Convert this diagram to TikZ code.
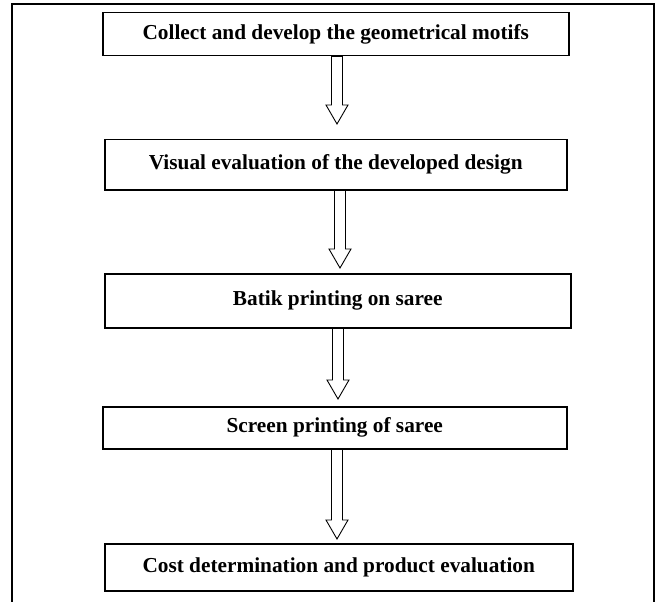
\documentclass[tikz,border=0pt]{standalone}
\usepackage{fontspec}
\setmainfont{Liberation Serif}
\usetikzlibrary{calc}
\tikzset{
  stepbox/.style={draw=black, line width=1.5pt, inner sep=0pt, anchor=north west,
    font=\fontsize{21.3}{24}\selectfont\bfseries, align=center},
  blockarr/.style={draw=black, line width=0.9pt, fill=white, line join=miter},
}
% hollow block arrow from the bottom of box #1 down to coordinate #2
\newcommand{\blockarrow}[2]{%
  \draw[blockarr] let \p1=(#1.south), \p2=(#2) in
    (\x2-5.5pt,\y1) -- (\x2-5.5pt,\y2+19pt) -- (\x2-11pt,\y2+19pt) -- (\x2,\y2)
    -- (\x2+11pt,\y2+19pt) -- (\x2+5.5pt,\y2+19pt) -- (\x2+5.5pt,\y1) -- cycle;}
\begin{document}
\begin{tikzpicture}[x=1pt,y=-1pt]
  \useasboundingbox (0,0) rectangle (657,602);
  % outer frame, open at the bottom
  \draw[line width=2.2pt] (12,602) -- (12,4) -- (654,4) -- (654,602);

  \node[stepbox, minimum width=466pt, minimum height=43pt] (b1) at (102,12)
    {Collect and develop the geometrical motifs};
  \node[stepbox, minimum width=462pt, minimum height=50pt] (b2) at (104,139)
    {Visual evaluation of the developed design};
  \node[stepbox, minimum width=466pt, minimum height=54pt] (b3) at (104,273)
    {Batik printing on saree};
  \node[stepbox, minimum width=464pt, minimum height=42pt] (b4) at (102,406)
    {Screen printing of saree};
  \node[stepbox, minimum width=468pt, minimum height=47pt] (b5) at (104,543)
    {Cost determination and product evaluation};

  \coordinate (t1) at (337,124);
  \coordinate (t2) at (340,268);
  \coordinate (t3) at (338,399);
  \coordinate (t4) at (337,539);

  \blockarrow{b1}{t1}
  \blockarrow{b2}{t2}
  \blockarrow{b3}{t3}
  \blockarrow{b4}{t4}
\end{tikzpicture}
\end{document}
